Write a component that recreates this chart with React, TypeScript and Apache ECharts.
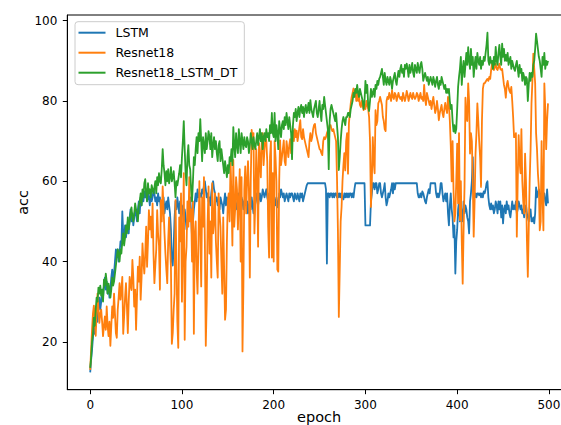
import React, { useEffect, useRef } from "react";
import * as echarts from "echarts";

const xTicks = [0, 100, 200, 300, 400, 500];
const yTicks = [20, 40, 60, 80, 100];
const seriesNames = ["LSTM", "Resnet18", "Resnet18_LSTM_DT"];

const lstm = [
  12.4, 15.5, 18, 21, 24, 22, 26, 28, 25, 29,
  31, 28, 30, 33, 31, 34, 36, 33, 35, 32,
  34, 31, 33, 36, 38, 35, 37, 40, 43, 41,
  43, 40, 42, 45, 44, 52.5, 47, 45, 49, 46,
  48, 50, 47, 51, 53, 50, 52, 49, 51, 53,
  52, 50, 53, 55, 52, 56, 54, 57, 55, 57.5,
  56, 58, 55, 57, 56, 54, 57, 55, 56, 58,
  57, 55, 56, 54, 57, 55, 56, 53, 55, 54,
  56, 52, 54, 55, 53, 56, 54, 52, 48, 40,
  39, 44, 51, 55, 53, 56, 54, 52, 55, 53,
  54, 52, 50, 53, 51, 48, 50, 52, 54, 56,
  52, 46, 50, 53, 55, 57, 55, 58, 56, 57,
  57, 56, 58, 57, 59, 60, 58, 56, 57, 55,
  56, 54, 57, 59, 60, 58, 57, 55, 56, 54,
  55, 53, 56, 55, 54, 52, 55, 57, 54, 56,
  55, 53, 54, 56, 55, 52, 54, 56, 55, 53,
  54, 56, 57, 55, 54, 56, 55, 53, 55, 56,
  54, 55, 52, 54, 55, 53, 56, 54, 52, 55,
  56, 57, 55, 54, 56, 57, 55, 56, 58, 57,
  56, 57, 58, 56, 55, 57, 56, 55, 57, 56,
  57, 55, 54, 56, 53.5, 54, 57, 56, 58, 57,
  56, 57, 55, 56, 57, 56, 55, 57, 56, 57,
  57, 56, 55, 57, 56, 55.5, 57, 56, 55, 57,
  56, 57, 55, 56, 57, 58, 59, 59.5, 59.5, 59.5,
  59.5, 59.5, 59.5, 59.5, 59.5, 59.5, 59.5, 59.5, 59.5, 59.5,
  59.5, 59.5, 59.5, 59.5, 59.5, 59.5, 59.5, 58, 39.5, 57,
  57, 56, 57, 57, 56, 57, 56, 57, 57, 56,
  57, 56, 57, 56, 57, 56, 55.5, 57, 56, 57,
  56, 57, 56, 57, 57, 56, 57, 56, 58, 59.5,
  59.5, 59.5, 59.5, 59.5, 59.5, 59.5, 59.5, 59.5, 59.5, 59.5,
  49, 49, 49, 49, 49, 49, 55, 57, 59.5, 59.5,
  58, 59.5, 59.5, 57, 58, 59.5, 59.5, 57, 56, 57,
  58, 59.5, 56, 54, 55, 57, 56, 57, 58, 59.5,
  57, 59.5, 58, 59.5, 59.5, 59.5, 59.5, 59.5, 59.5, 59.5,
  59.5, 59.5, 59.5, 59.5, 59.5, 59.5, 59.5, 59.5, 59.5, 59.5,
  59.5, 59.5, 59.5, 59.5, 59.5, 59.5, 59.5, 57, 56, 56,
  57, 56, 57.5, 57, 56, 55, 54.5, 56, 57, 58,
  57, 59.5, 59.5, 59.5, 59.5, 59.5, 59.5, 57, 56, 57,
  56, 57, 59.5, 59.5, 57, 55, 56, 57, 55, 57,
  52, 49, 54, 57, 53, 51, 46, 49, 37, 45,
  48, 53, 55, 50, 54, 52, 50, 55, 52, 54,
  53, 51, 50, 47, 55, 57, 60, 66, 57, 56,
  57, 56, 57, 57, 56.5, 57, 56, 57, 56, 57.5,
  57, 58, 59.5, 60, 56, 54, 53, 54.5, 53, 54,
  52, 53, 55, 54, 52, 55, 53, 55, 51, 54,
  49.5, 53, 54, 52, 55, 53, 54, 52, 51, 53,
  55, 53, 54, 53, 55, 52, 53, 55, 54, 53,
  54, 52, 53, 51, 53, 54, 52, 51, 50, 52,
  53, 50, 50, 51, 49.5, 52, 58.5, 56, 57, 58,
  57, 56, 57, 55, 56, 57, 55, 54, 58, 54.5,
];

const resnet18 = [
  13, 18, 23, 27, 29, 26, 21.5, 27, 32, 28,
  24.7, 27, 28, 25, 21.4, 24, 26.3, 23, 28.8, 24,
  21.4, 25, 19, 24, 28.8, 26, 32, 27, 22.2, 21,
  28, 31, 34.6, 30.5, 33, 36.2, 22, 26.3, 31, 34.6,
  29, 22.2, 30, 36.2, 34, 32.9, 40.4, 36, 28.8, 33,
  23, 31, 38.7, 35, 41.2, 30.5, 36, 44.5, 40, 37,
  42, 48.7, 38.7, 45, 52.8, 48, 51.2, 46, 54.5, 42,
  34.6, 39, 43, 52.8, 47, 44, 33, 55.3, 50, 58.7,
  53, 47, 42, 38, 34.6, 45, 51, 44, 38.7, 19.5,
  22.2, 28, 32, 55.3, 40, 25, 18.5, 51, 45, 57,
  30, 45, 62, 20.5, 40, 43.7, 55, 48.7, 61, 50,
  53, 40, 55, 22, 47, 50, 38, 32, 45, 60,
  48, 33.8, 56, 48.7, 61, 45, 19, 30, 50, 58.7,
  42, 50, 36, 59.5, 47, 50, 57, 45, 40, 36,
  57, 52, 48.7, 40, 32, 51, 38, 25.5, 28, 45,
  55, 57, 50, 65.3, 56, 44, 65.3, 48.7, 53, 61,
  58, 48, 55, 63, 40, 61, 17.6, 34, 58, 63.7,
  52, 60, 65, 58, 36, 60, 72.8, 69.5, 72, 47,
  55, 68, 62, 43.7, 69.5, 66, 61, 70, 72, 64,
  68, 71, 70, 65, 48.7, 41, 66, 70, 41, 62,
  40, 70, 66, 60, 38, 37.5, 60, 70.2, 64, 66,
  68, 70.2, 65, 64, 70, 68, 66, 69, 70.5, 67,
  71, 72.6, 70, 73, 71, 72.6, 70, 71.5, 73.5, 75.2,
  71, 70.5, 73, 71, 70, 69, 68, 67, 66, 70,
  72, 70, 71, 73, 74, 74.3, 72, 71, 70, 69,
  68, 67.8, 67, 66.5, 70, 71, 70.5, 71, 72, 72.6,
  73, 74, 74, 73, 72.5, 73, 72, 71, 70, 61,
  48, 26.2, 38, 50, 53.6, 60, 64, 67, 62.7, 70,
  72, 61.9, 74.5, 77, 79.4, 81, 82, 83.1, 82, 82.7,
  80, 81.9, 80, 81, 79, 78.5, 80, 79, 77.7, 79,
  78, 80, 79, 78, 76, 70, 53.6, 60, 71, 65,
  62, 77.7, 74, 75, 79.4, 80, 81, 80, 79, 76,
  75, 73, 72.5, 80, 81, 80.5, 82, 81, 80, 82.7,
  81, 80.5, 82, 81.5, 80, 81, 82, 81, 80.5, 81,
  80, 82, 81, 80, 81, 82.5, 81.5, 80, 81, 82,
  81, 80.5, 82, 81, 80.5, 81, 82, 81.5, 80, 81,
  82, 80.5, 81, 80, 84, 80.5, 79, 82, 81, 80,
  79, 80, 78, 79.5, 81, 79, 77, 78, 80, 78,
  75.2, 77, 78, 79, 77, 76, 78, 79.5, 78, 77,
  81, 79, 75, 69, 60, 70, 58, 50, 52, 60,
  69.4, 54.5, 72, 50.3, 60, 45, 34.5, 48, 58.6, 80.8,
  76, 75, 84.4, 80, 66.9, 72, 70, 60, 46.2, 55,
  66.9, 72, 79.4, 75, 70, 66, 58.6, 75, 83, 84.4,
  84.4, 84.8, 85.2, 85.5, 85, 86, 85.5, 87.7, 89.3, 88,
  87.7, 88.5, 89.3, 88, 87.7, 88.5, 89.3, 88, 87.7, 88,
  86, 84, 83, 80.8, 84, 85, 83.5, 82.5, 82, 83.5,
  80, 76, 71, 71, 72, 46.2, 60, 71.5, 65, 62,
  73, 60, 55, 52, 66.9, 60, 45.4, 36.2, 48, 60,
  67.9, 79.4, 85, 91.8, 88, 84.4, 72, 68, 62, 58.6,
  47.8, 50, 70, 56, 47.8, 84.4, 78, 68, 75.2, 79.4,
];

const resnet18LstmDt = [
  13.5, 16, 20, 22, 26, 24, 28, 31, 30, 33.5,
  32, 34, 31.5, 33, 30, 35.5, 34, 37, 35, 32,
  34.5, 33, 31, 33, 36, 34, 35, 37, 39, 41,
  43, 42, 40, 43, 42, 45, 47, 44, 46, 49,
  47, 51, 48, 50, 52, 53.5, 51, 50, 52, 54.5,
  53, 52, 50, 54, 55, 57, 54, 58, 56, 59.5,
  60.5, 57, 55, 59.5, 57, 58, 56, 59, 58, 57,
  58.5, 60, 57, 61, 59, 62, 60, 59.5, 63, 68,
  64, 62, 59, 62.5, 60, 63, 59.5, 61, 63.5, 60,
  61, 62.5, 59.5, 56, 60, 59, 60.5, 62, 64, 61,
  66, 70, 75, 68, 62, 59, 66, 69, 64, 63,
  58, 55, 60, 66, 64, 68, 71, 67, 72, 70,
  75.5, 70, 65, 71, 69, 67, 72, 68, 70, 72.5,
  71, 68, 72, 66, 69, 71, 68, 70, 67, 65,
  69, 70, 65, 68, 66, 64, 62, 65, 63, 61,
  64, 62, 66, 65, 68, 64, 73.5, 69, 66, 72,
  69, 67, 73, 70, 67, 72, 70, 68, 71, 69,
  68.5, 71, 70, 67, 69, 72, 70, 68, 71, 69,
  68, 70, 72, 69, 71, 73, 70, 72, 68, 71,
  72, 70, 73, 71, 72, 70, 74, 72, 77, 72,
  71, 77, 70, 74, 72, 68, 75, 73, 71, 74,
  75, 73, 76, 74, 77, 75, 73, 76, 74, 72,
  65.5, 74, 77, 76, 78, 75, 77, 78.5, 76, 78,
  79, 77, 78.5, 76, 78, 79, 77, 78, 79.5, 77,
  80.2, 78, 77, 76, 78, 79, 80, 77, 76, 78,
  80, 77, 75, 79, 78, 81, 79, 77, 75, 73,
  63, 75, 78, 79, 78, 77, 76, 75, 77, 74,
  71, 62.8, 66, 70, 73, 75, 76, 75, 74, 76,
  76, 77, 77, 76, 78, 79, 80, 82, 81, 83,
  82, 84, 82, 81, 83, 82, 81, 80, 78, 80,
  85, 82, 84, 79, 77.5, 80, 83, 81, 82, 83,
  81, 84, 83, 85, 84, 85.5, 86, 87, 88, 86,
  84, 87, 85, 84, 86, 85, 84, 86, 85, 83,
  85, 86, 87, 85, 84, 86, 87.5, 86, 88, 89,
  87, 88, 86, 89, 88, 89.3, 88, 86, 89, 87,
  88, 89.5, 87, 86, 89, 88, 87, 89.5, 88, 87,
  89, 89.7, 88, 85, 86, 87, 86, 85, 86, 84,
  85, 86, 85, 84, 86, 85, 83.5, 85, 86, 84,
  83, 85, 84, 86, 85, 84, 83, 84, 82, 83,
  82, 83, 80, 78, 79, 75, 72.4, 74, 72, 73,
  78, 83.5, 86, 88, 91, 84, 88, 90, 86, 89,
  92, 89, 93.4, 90, 88, 93, 89, 91, 86, 89,
  91, 88, 92, 90, 89, 91, 88, 90, 89, 91,
  90, 92, 94, 97, 90, 89, 91, 89.5, 90, 88,
  91, 89, 93.5, 90, 89, 92, 94, 91, 89, 94.3,
  91, 93, 90, 91.5, 90, 92, 89, 90, 91, 88,
  90, 89, 88, 87.5, 89, 90, 88, 86, 89, 87,
  88, 85, 87, 86, 84, 86, 85.5, 80, 84, 87,
  85, 87, 86, 89, 90, 93, 96.8, 95, 93, 91,
  90, 88, 86, 91, 89, 92, 88, 90, 89, 90,
];

const colors = ["#1f77b4", "#ff7f0e", "#2ca02c"];
const FONT = "DejaVu Sans";

export default function App() {
  const ref = useRef<HTMLDivElement>(null);
  useEffect(() => {
    if (!ref.current) return;
    const chart = echarts.init(ref.current, null, { renderer: "svg" });
    const all = [lstm, resnet18, resnet18LstmDt];
    chart.setOption({
      animation: false,
      backgroundColor: "#ffffff",
      grid: {
        left: 67.3,
        top: 15,
        width: 503.6,
        height: 374.7,
        containLabel: false,
        outerBoundsMode: "none",
        show: true,
        borderColor: "#000000",
        borderWidth: 1,
        backgroundColor: "transparent",
      },
      legend: {
        left: 75,
        top: 21.7,
        orient: "vertical",
        icon: "rect",
        itemWidth: 27,
        itemHeight: 2,
        itemGap: 7,
        padding: [4.5, 7, 5.5, 3.5],
        backgroundColor: "rgba(255,255,255,0.8)",
        borderColor: "#cccccc",
        borderWidth: 1,
        borderRadius: 3,
        selectedMode: false,
        textStyle: {
          fontSize: 12.5,
          color: "#000",
          fontFamily: FONT,
          padding: [0, 0, 0, 5],
          lineHeight: 12,
        },
        data: seriesNames,
      },
      xAxis: {
        type: "value",
        min: -24.95,
        max: 523.95,
        name: "epoch",
        nameLocation: "middle",
        nameGap: 20,
        nameMoveOverlap: false,
        nameTextStyle: { fontSize: 14.5, color: "#000", fontFamily: FONT },
        axisLine: { show: true, onZero: false, lineStyle: { color: "#000", width: 1 } },
        axisTick: { show: true, length: 4.5, lineStyle: { color: "#000", width: 1 }, customValues: xTicks },
        axisLabel: { customValues: xTicks, margin: 9, fontSize: 12, color: "#000", fontFamily: FONT },
        splitLine: { show: false },
      },
      yAxis: {
        type: "value",
        min: 8.07,
        max: 101.42,
        name: "acc",
        nameLocation: "middle",
        nameGap: 37,
        nameMoveOverlap: false,
        nameTextStyle: { fontSize: 14.5, color: "#000", fontFamily: FONT },
        axisLine: { show: true, onZero: false, lineStyle: { color: "#000", width: 1 } },
        axisTick: { show: true, length: 4.5, lineStyle: { color: "#000", width: 1 }, customValues: yTicks },
        axisLabel: { customValues: yTicks, margin: 10, fontSize: 12, color: "#000", fontFamily: FONT },
        splitLine: { show: false },
      },
      series: all.map((arr, k) => ({
        name: seriesNames[k],
        type: "line",
        data: arr.map((v, i) => [i, v]),
        showSymbol: false,
        symbol: "none",
        silent: true,
        lineStyle: { width: 1.8, color: colors[k], join: "round", cap: "butt" },
        itemStyle: { color: colors[k] },
        z: 2 + k,
      })),
    });
    return () => chart.dispose();
  }, []);
  return (
    <div
      ref={ref}
      style={{ position: "fixed", left: 0, top: 0, width: 561, height: 425 }}
    />
  );
}
